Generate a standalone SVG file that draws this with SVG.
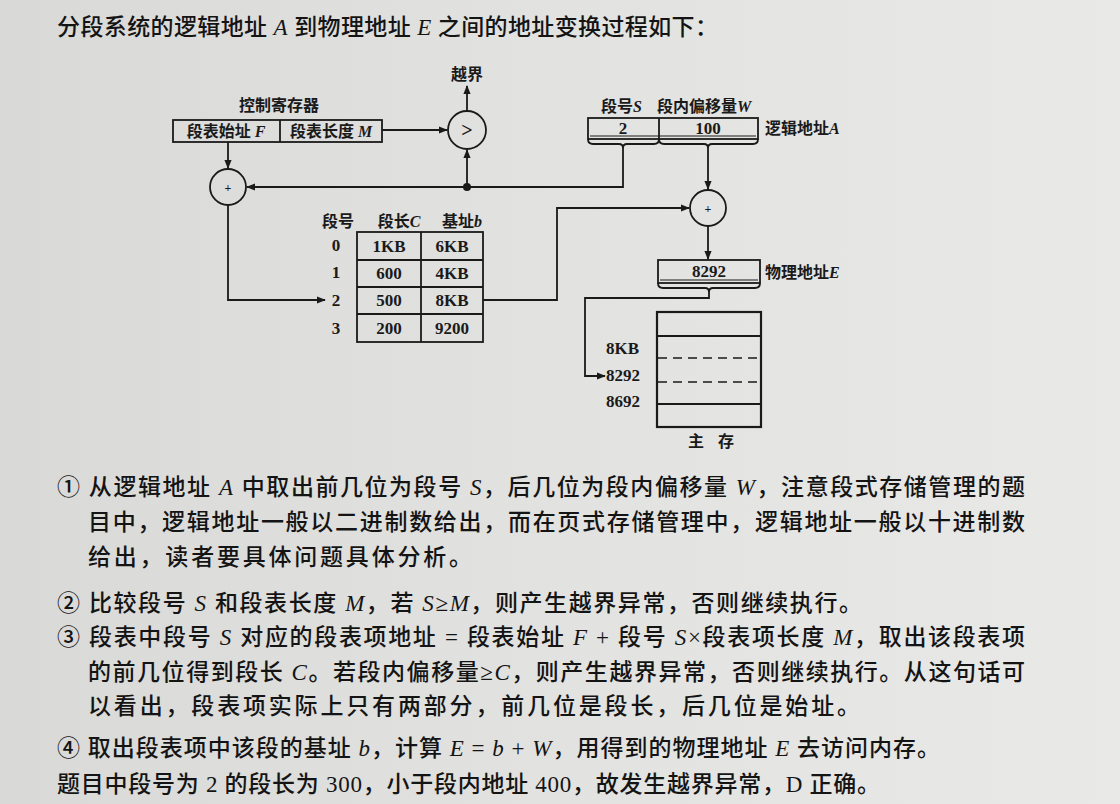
<svg xmlns="http://www.w3.org/2000/svg" width="1120" height="804" viewBox="0 0 1120 804">
  <defs>
    <linearGradient id="paper" x1="0" y1="0" x2="1" y2="0">
      <stop offset="0" stop-color="#d9d9d7"/>
      <stop offset="0.5" stop-color="#e2e2e0"/>
      <stop offset="1" stop-color="#e9e9e8"/>
    </linearGradient>
    <marker id="arr" viewBox="0 0 10 10" refX="9" refY="5" markerWidth="9" markerHeight="9" markerUnits="userSpaceOnUse" orient="auto">
      <path d="M0,1 L10,5 L0,9 z" fill="#1a1a1a"/>
    </marker>
    <style>
      .ln { fill: none; stroke: #1a1a1a; stroke-width: 1.8; }
      .box { fill: none; stroke: #1a1a1a; stroke-width: 1.8; }
      .dash { fill: none; stroke: #1a1a1a; stroke-width: 1.6; stroke-dasharray: 9 6; }
      .lbl { font-family: "Liberation Serif", "Noto Sans CJK SC", serif; font-size: 16px; font-weight: bold; fill: #1a1a1a; }
      .num { font-family: "Liberation Serif", "Noto Sans CJK SC", serif; font-size: 17px; font-weight: bold; fill: #1a1a1a; }
      .para { font-family: "Liberation Serif", "Noto Sans CJK SC", serif; font-size: 23px; font-weight: 500; fill: #141414; }
      .it { font-style: italic; }
      .mid { text-anchor: middle; }
    </style>
  </defs>

  <rect x="0" y="0" width="1120" height="804" fill="url(#paper)"/>

  <!-- heading -->
  <text class="para" x="57" y="35" textLength="661" lengthAdjust="spacing">分段系统的逻辑地址 <tspan class="it">A</tspan> 到物理地址 <tspan class="it">E</tspan> 之间的地址变换过程如下：</text>

  <!-- control register -->
  <g id="control-register">
    <text class="lbl mid" x="279" y="111">控制寄存器</text>
    <rect class="box" x="173" y="120" width="209" height="22"/>
    <line class="ln" x1="280" y1="120" x2="280" y2="142"/>
    <text class="lbl mid" x="226" y="137">段表始址 <tspan class="it">F</tspan></text>
    <text class="lbl mid" x="331" y="137">段表长度 <tspan class="it">M</tspan></text>
  </g>

  <!-- comparator -->
  <g id="comparator">
    <circle class="box" cx="467" cy="130" r="19"/>
    <text class="num mid" x="467" y="137" style="font-size:20px">&gt;</text>
    <text class="lbl mid" x="467" y="80">越界</text>
  </g>

  <!-- adder for segment table entry address -->
  <g id="adder-table">
    <circle class="box" cx="228" cy="187" r="18"/>
    <text class="lbl mid" x="228" y="192" style="font-size:12px">+</text>
  </g>

  <!-- logical address -->
  <g id="logical-address">
    <text class="lbl" x="601" y="112">段号<tspan class="it">S</tspan></text>
    <text class="lbl" x="657" y="112">段内偏移量<tspan class="it">W</tspan></text>
    <rect class="box" x="588" y="118" width="170" height="21"/>
    <line class="ln" x1="590" y1="136" x2="756" y2="136" style="stroke-width:1"/>
    <line class="ln" x1="659" y1="118" x2="659" y2="139"/>
    <text class="num mid" x="623" y="134">2</text>
    <text class="num mid" x="708" y="134">100</text>
    <text class="lbl" x="765" y="134">逻辑地址<tspan class="it">A</tspan></text>
    <path class="ln" d="M588,139 q0,5 5,5 L619,144 q4,0 4,4 q0,-4 4,-4 L654,144 q5,0 5,-5"/>
    <path class="ln" d="M659,139 q0,5 5,5 L704,144 q4,0 4,4 q0,-4 4,-4 L753,144 q5,0 5,-5"/>
  </g>

  <!-- segment table -->
  <g id="segment-table">
    <text class="lbl" x="322" y="227">段号</text>
    <text class="lbl mid" x="399" y="227">段长<tspan class="it">C</tspan></text>
    <text class="lbl mid" x="462" y="227">基址<tspan class="it">b</tspan></text>
    <rect class="box" x="357" y="232" width="126" height="110"/>
    <line class="ln" x1="421" y1="232" x2="421" y2="342"/>
    <line class="ln" x1="357" y1="260" x2="483" y2="260"/>
    <line class="ln" x1="357" y1="287" x2="483" y2="287"/>
    <line class="ln" x1="357" y1="314" x2="483" y2="314"/>
    <text class="num mid" x="336" y="251">0</text>
    <text class="num mid" x="336" y="278">1</text>
    <text class="num mid" x="336" y="306">2</text>
    <text class="num mid" x="336" y="334">3</text>
    <text class="num mid" x="389" y="252">1KB</text>
    <text class="num mid" x="452" y="252">6KB</text>
    <text class="num mid" x="389" y="279">600</text>
    <text class="num mid" x="452" y="279">4KB</text>
    <text class="num mid" x="389" y="306">500</text>
    <text class="num mid" x="452" y="306">8KB</text>
    <text class="num mid" x="389" y="334">200</text>
    <text class="num mid" x="452" y="334">9200</text>
  </g>

  <!-- adder for physical address -->
  <g id="adder-physical">
    <circle class="box" cx="708" cy="208" r="18"/>
    <text class="lbl mid" x="708" y="213" style="font-size:12px">+</text>
  </g>

  <!-- physical address -->
  <g id="physical-address">
    <rect class="box" x="658" y="260" width="102" height="23"/>
    <line class="ln" x1="660" y1="280" x2="758" y2="280" style="stroke-width:1"/>
    <text class="num mid" x="709" y="277">8292</text>
    <text class="lbl" x="765" y="278">物理地址<tspan class="it">E</tspan></text>
    <path class="ln" d="M658,283 q0,5 5,5 L705,288 q4,0 4,4 q0,-4 4,-4 L755,288 q5,0 5,-5"/>
  </g>

  <!-- main memory -->
  <g id="main-memory">
    <rect class="box" x="657" y="312" width="104" height="115" style="stroke-width:2.2"/>
    <line class="ln" x1="657" y1="336" x2="761" y2="336"/>
    <line class="dash" x1="658" y1="358" x2="761" y2="358"/>
    <line class="dash" x1="658" y1="382" x2="761" y2="382"/>
    <line class="ln" x1="657" y1="404" x2="761" y2="404"/>
    <text class="num" x="606" y="354">8KB</text>
    <text class="num" x="606" y="381">8292</text>
    <text class="num" x="606" y="407">8692</text>
    <text class="lbl" x="688" y="447">主</text>
    <text class="lbl" x="718" y="447">存</text>
  </g>

  <!-- connectors -->
  <g id="connectors">
    <line class="ln" x1="382" y1="130" x2="447" y2="130" marker-end="url(#arr)"/>
    <line class="ln" x1="467" y1="111" x2="467" y2="86" marker-end="url(#arr)"/>
    <line class="ln" x1="467" y1="187" x2="467" y2="150" marker-end="url(#arr)"/>
    <polyline class="ln" points="623,148 623,187 247,187" marker-end="url(#arr)"/>
    <circle cx="467" cy="187" r="4" fill="#1a1a1a"/>
    <line class="ln" x1="228" y1="142" x2="228" y2="168" marker-end="url(#arr)"/>
    <polyline class="ln" points="228,205 228,300 325,300" marker-end="url(#arr)"/>
    <polyline class="ln" points="483,300 557,300 557,208 689,208" marker-end="url(#arr)"/>
    <line class="ln" x1="708" y1="148" x2="708" y2="189" marker-end="url(#arr)"/>
    <line class="ln" x1="708" y1="226" x2="708" y2="259" marker-end="url(#arr)"/>
    <polyline class="ln" points="709,292 709,298 585,298 585,376 605,376" marker-end="url(#arr)"/>
  </g>

  <!-- explanation text -->
  <g id="explanation">
    <text class="para" x="57" y="495" textLength="968" lengthAdjust="spacing">① 从逻辑地址 <tspan class="it">A</tspan> 中取出前几位为段号 <tspan class="it">S</tspan>，后几位为段内偏移量 <tspan class="it">W</tspan>，注意段式存储管理的题</text>
    <text class="para" x="88" y="530" textLength="937" lengthAdjust="spacing">目中，逻辑地址一般以二进制数给出，而在页式存储管理中，逻辑地址一般以十进制数</text>
    <text class="para" x="88" y="565" textLength="384" lengthAdjust="spacing">给出，读者要具体问题具体分析。</text>
    <text class="para" x="57" y="611" textLength="805" lengthAdjust="spacing">② 比较段号 <tspan class="it">S</tspan> 和段表长度 <tspan class="it">M</tspan>，若 <tspan class="it">S</tspan>≥<tspan class="it">M</tspan>，则产生越界异常，否则继续执行。</text>
    <text class="para" x="57" y="645" textLength="968" lengthAdjust="spacing">③ 段表中段号 <tspan class="it">S</tspan> 对应的段表项地址 = 段表始址 <tspan class="it">F</tspan> + 段号 <tspan class="it">S</tspan>×段表项长度 <tspan class="it">M</tspan>，取出该段表项</text>
    <text class="para" x="88" y="680" textLength="937" lengthAdjust="spacing">的前几位得到段长 <tspan class="it">C</tspan>。若段内偏移量≥<tspan class="it">C</tspan>，则产生越界异常，否则继续执行。从这句话可</text>
    <text class="para" x="88" y="714" textLength="772" lengthAdjust="spacing">以看出，段表项实际上只有两部分，前几位是段长，后几位是始址。</text>
    <text class="para" x="57" y="756" textLength="883" lengthAdjust="spacing">④ 取出段表项中该段的基址 <tspan class="it">b</tspan>，计算 <tspan class="it">E</tspan> = <tspan class="it">b</tspan> + <tspan class="it">W</tspan>，用得到的物理地址 <tspan class="it">E</tspan> 去访问内存。</text>
    <text class="para" x="57" y="792" textLength="823" lengthAdjust="spacing">题目中段号为 2 的段长为 300，小于段内地址 400，故发生越界异常，D 正确。</text>
  </g>
</svg>
